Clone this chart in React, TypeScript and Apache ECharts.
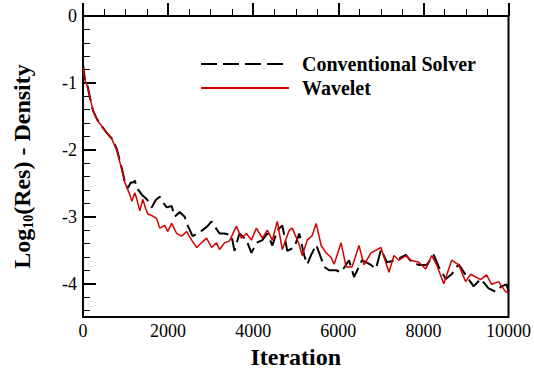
import React, { useEffect, useRef } from "react";
import * as echarts from "echarts";

const blackIter = [0, 47, 94, 164, 234, 328, 445, 562, 679, 796, 913, 984, 1054, 1124, 1171, 1218, 1265, 1382, 1499, 1616, 1710, 1803, 1874, 1967, 2084, 2155, 2272, 2389, 2459, 2576, 2693, 2810, 2928, 3021, 3091, 3209, 3326, 3490, 3560, 3677, 3841, 3958, 4075, 4216, 4333, 4450, 4567, 4684, 4801, 4965, 5082, 5199, 5270, 5363, 5480, 5551, 5668, 5785, 5949, 6066, 6253, 6370, 6558, 6768, 6885, 7003, 7143, 7354, 7588, 7729, 7893, 8080, 8244, 8361, 8525, 8665, 8829, 8993, 9181, 9345, 9532, 9696, 9836, 9953, 10000];
const blackVal = [-0.72, -0.96, -1.01, -1.22, -1.41, -1.54, -1.65, -1.75, -1.83, -1.99, -2.28, -2.48, -2.57, -2.49, -2.49, -2.46, -2.57, -2.67, -2.74, -2.86, -2.75, -2.7, -2.78, -2.86, -2.84, -3.0, -2.93, -3.0, -3.13, -3.29, -3.25, -3.2, -3.14, -3.07, -3.14, -3.25, -3.25, -3.28, -3.51, -3.25, -3.35, -3.54, -3.39, -3.35, -3.25, -3.43, -3.2, -3.13, -3.51, -3.46, -3.25, -3.58, -3.71, -3.57, -3.42, -3.54, -3.75, -3.8, -3.8, -3.83, -3.65, -3.9, -3.65, -3.72, -3.78, -3.49, -3.68, -3.65, -3.57, -3.68, -3.72, -3.72, -3.57, -3.75, -3.93, -3.86, -3.71, -3.87, -4.04, -3.93, -4.07, -4.12, -4.04, -4.01, -4.12];

const redIter = [0, 47, 94, 164, 234, 328, 445, 562, 679, 796, 913, 984, 1101, 1148, 1218, 1265, 1335, 1405, 1475, 1522, 1639, 1733, 1803, 1920, 1991, 2084, 2201, 2318, 2436, 2553, 2670, 2787, 2904, 3021, 3138, 3209, 3326, 3443, 3607, 3724, 3841, 3958, 4075, 4216, 4333, 4450, 4567, 4684, 4848, 4918, 5082, 5152, 5270, 5387, 5480, 5597, 5714, 5832, 5902, 6066, 6183, 6323, 6487, 6604, 6768, 7003, 7190, 7307, 7424, 7588, 7705, 7893, 8056, 8197, 8314, 8478, 8665, 8829, 8993, 9110, 9345, 9485, 9602, 9766, 9930, 10000];
const redVal = [-0.78, -0.96, -1.03, -1.22, -1.41, -1.55, -1.65, -1.75, -1.84, -2.01, -2.3, -2.49, -2.67, -2.77, -2.64, -2.74, -2.91, -2.74, -2.88, -2.96, -2.99, -3.03, -3.17, -3.13, -3.22, -3.1, -3.25, -3.29, -3.22, -3.35, -3.46, -3.39, -3.32, -3.46, -3.39, -3.49, -3.39, -3.36, -3.14, -3.32, -3.25, -3.35, -3.17, -3.32, -3.2, -3.35, -3.07, -3.49, -3.2, -3.17, -3.42, -3.58, -3.35, -3.28, -3.1, -3.43, -3.54, -3.61, -3.71, -3.39, -3.75, -3.75, -3.43, -3.72, -3.54, -3.46, -3.83, -3.58, -3.65, -3.58, -3.65, -3.68, -3.78, -3.58, -3.72, -4.0, -3.65, -3.72, -3.97, -3.86, -3.94, -3.87, -4.01, -3.97, -4.12, -4.14];

const seriesNames = ["Conventional Solver", "Wavelet"];
const yMajorTicks = [0, -1, -2, -3, -4];
const yMinorTicks = [-0.2, -0.4, -0.6, -0.8, -1.2, -1.4, -1.6, -1.8, -2.2, -2.4, -2.6, -2.8, -3.2, -3.4, -3.6, -3.8, -4.2, -4.4];

const FONT = "Liberation Serif";

export default function App() {
  const ref = useRef<HTMLDivElement>(null);
  useEffect(() => {
    if (!ref.current) return;
    const chart = echarts.init(ref.current, undefined, { renderer: "svg" });
    const blackData = blackIter.map((x, i) => [x, blackVal[i]]);
    const redData = redIter.map((x, i) => [x, redVal[i]]);
    chart.setOption({
      animation: false,
      backgroundColor: "#fff",
      grid: {
        left: 83,
        right: 24,
        top: 16,
        bottom: 48,
        show: true,
        borderColor: "#000",
        borderWidth: 2,
        backgroundColor: "transparent",
      },
      legend: {
        left: 200,
        top: 54,
        padding: 0,
        orient: "vertical",
        itemWidth: 88,
        itemHeight: 14,
        itemGap: 4,
        itemStyle: { opacity: 0 },
        textStyle: {
          fontFamily: FONT,
          fontWeight: "bold",
          fontSize: 20,
          lineHeight: 18,
          color: "#000",
          padding: [0, 0, 0, 8],
        },
        data: seriesNames,
      },
      xAxis: {
        type: "value",
        min: 0,
        max: 10000,
        interval: 2000,
        name: "Iteration",
        nameLocation: "middle",
        nameGap: 21,
        nameTextStyle: { fontFamily: FONT, fontWeight: "bold", fontSize: 24, color: "#000" },
        axisLine: { show: true, lineStyle: { color: "#000", width: 2 } },
        axisTick: { show: true, inside: true, length: 13, lineStyle: { color: "#000", width: 2 } },
        minorTick: { show: true, splitNumber: 4, length: 7, lineStyle: { color: "#000", width: 1 } },
        axisLabel: { fontFamily: FONT, fontSize: 18, color: "#000", margin: 5, formatter: (v: number) => String(v) },
        splitLine: { show: false },
      },
      yAxis: [
        {
          type: "value",
          min: -4.5,
          max: 0,
          position: "left",
          name: "{a|Log}{b|10}{a|(Res) - Density}",
          nameLocation: "middle",
          nameGap: 48,
          nameRotate: 90,
          nameTextStyle: {
            rich: {
              a: { fontFamily: FONT, fontWeight: "bold", fontSize: 24, color: "#000" },
              b: { fontFamily: FONT, fontWeight: "bold", fontSize: 14, color: "#000", padding: [12, 0, 0, 0] },
            },
          },
          axisLine: { show: true, lineStyle: { color: "#000", width: 2 } },
          axisTick: { show: true, inside: true, length: 13, customValues: yMajorTicks, lineStyle: { color: "#000", width: 2 } },
          axisLabel: { fontFamily: FONT, fontSize: 18, color: "#000", margin: 6, customValues: yMajorTicks, formatter: (v: number) => String(v) },
          splitLine: { show: false },
        },
        {
          type: "value",
          min: -4.5,
          max: 0,
          position: "left",
          axisLine: { show: false },
          axisTick: { show: true, inside: true, length: 7, customValues: yMinorTicks, lineStyle: { color: "#000", width: 1 } },
          axisLabel: { show: false },
          splitLine: { show: false },
        },
      ],
      series: [
        {
          name: seriesNames[0],
          type: "line",
          data: blackData,
          showSymbol: false,
          symbol: "none",
          lineStyle: { color: "#000", width: 2, type: [16, 6] },
          itemStyle: { color: "#000" },
        },
        {
          name: seriesNames[1],
          type: "line",
          data: redData,
          showSymbol: false,
          symbol: "none",
          lineStyle: { color: "#d40000", width: 1.5 },
          itemStyle: { color: "#d40000" },
        },
      ],
    });
    return () => chart.dispose();
  }, []);
  return <div ref={ref} style={{ position: "fixed", left: 0, top: 0, width: 534, height: 374 }} />;
}
